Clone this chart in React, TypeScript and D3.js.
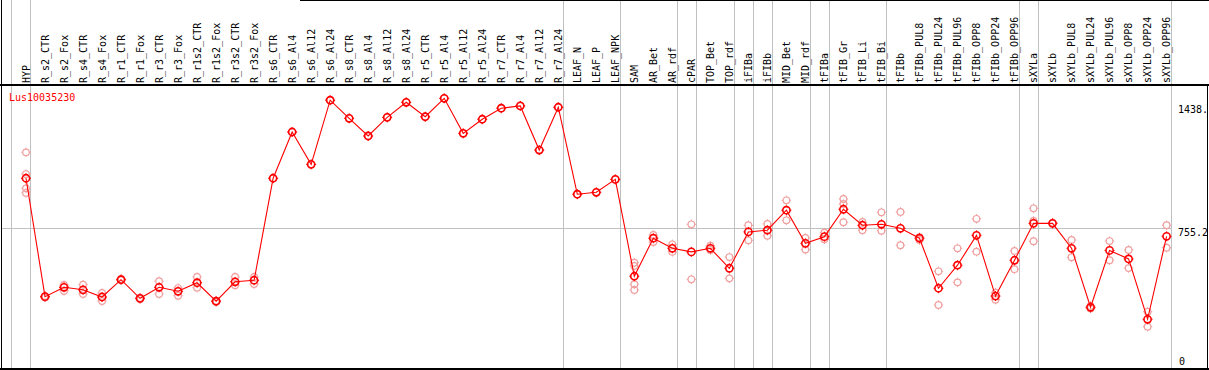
import React from "react";
import * as d3 from "d3";

const geneName = "Lus10035230";

const categories = [
  "HYP", "R_s2_CTR", "R_s2_Fox", "R_s4_CTR", "R_s4_Fox", "R_r1_CTR", "R_r1_Fox",
  "R_r3_CTR", "R_r3_Fox", "R_r1s2_CTR", "R_r1s2_Fox", "R_r3s2_CTR", "R_r3s2_Fox",
  "R_s6_CTR", "R_s6_Al4", "R_s6_Al12", "R_s6_Al24", "R_s8_CTR", "R_s8_Al4", "R_s8_Al12",
  "R_s8_Al24", "R_r5_CTR", "R_r5_Al4", "R_r5_Al12", "R_r5_Al24", "R_r7_CTR", "R_r7_Al4",
  "R_r7_Al12", "R_r7_Al24", "LEAF_N", "LEAF_P", "LEAF_NPK", "SAM", "AR_Bet", "AR_rdf",
  "cPAR", "TOP_Bet", "TOP_rdf", "iFIBa", "iFIBb", "MID_Bet", "MID_rdf", "tFIBa",
  "tFIB_Gr", "tFIB_Li", "tFIB_Bi", "tFIBb", "tFIBb_PUL8", "tFIBb_PUL24", "tFIBb_PUL96",
  "tFIBb_OPP8", "tFIBb_OPP24", "tFIBb_OPP96", "sXYLa", "sXYLb", "sXYLb_PUL8",
  "sXYLb_PUL24", "sXYLb_PUL96", "sXYLb_OPP8", "sXYLb_OPP24", "sXYLb_OPP96",
];

const meanValues = [
  1018, 396, 445, 432, 394, 485, 387, 445, 424, 469, 372, 474, 482,
  1018, 1261, 1091, 1428, 1333, 1240, 1338, 1417, 1341, 1438, 1254, 1328,
  1386, 1398, 1166, 1391, 934, 944, 1012, 503, 703, 650, 631, 650, 545,
  736, 745, 850, 676, 711, 855, 771, 776, 755, 703, 440, 561, 718, 399,
  587, 781, 781, 650, 340, 639, 594, 277, 713,
];

const replicateValues = [
  [1154, 1040, 965, 941],
  [399, 392],
  [457, 426],
  [459, 410],
  [415, 373],
  [489, 483],
  [389, 384],
  [477, 410],
  [441, 401],
  [499, 443],
  [373, 368],
  [499, 456],
  [499, 462],
  [1018],
  [1261],
  [1091],
  [1428],
  [1333],
  [1240],
  [1338],
  [1417],
  [1341],
  [1438],
  [1254],
  [1328],
  [1386],
  [1398],
  [1166],
  [1391],
  [934],
  [944],
  [1012],
  [574, 557, 461, 431],
  [720, 683],
  [671, 631],
  [776, 487],
  [664, 641],
  [604, 492],
  [771, 692],
  [778, 716],
  [902, 797],
  [704, 643],
  [732, 697],
  [909, 883, 787],
  [788, 745],
  [839, 742],
  [841, 666],
  [708, 694],
  [529, 352],
  [650, 471],
  [805, 632],
  [417, 380],
  [636, 540],
  [860, 794, 687],
  [781, 784],
  [694, 603],
  [347, 334],
  [688, 587],
  [641, 546],
  [317, 238],
  [771, 653],
];

// categories after which a vertical separator is drawn
const groupEnds = [
  "HYP", "R_r7_Al24", "LEAF_NPK", "AR_rdf", "cPAR", "TOP_rdf", "iFIBa", "iFIBb",
  "MID_rdf", "tFIBa", "tFIB_Bi", "tFIBb_OPP96", "sXYLa", "sXYLb_OPP96",
];

const yMaxLabel = "1438.";
const yMidValue = 755.2;
const yMidLabel = "755.2";
const yMinLabel = "0";

const W = 1209;
const H = 370;
const FONT = "'DejaVu Sans Mono', 'Liberation Mono', monospace";
const RED = "#ff0000";
const PINK = "#f0a0a0";
const GRID = "#c0c0c0";

function Marker({ cx, cy, r, color, sw }: { cx: number; cy: number; r: number; color: string; sw: number }) {
  const t = 1.4;
  return (
    <g stroke={color} strokeWidth={sw} fill="none">
      <circle cx={cx} cy={cy} r={r} />
      <line x1={cx} y1={cy - r} x2={cx} y2={cy - r - t} strokeWidth={1} />
      <line x1={cx} y1={cy + r} x2={cx} y2={cy + r + t} strokeWidth={1} />
      <line x1={cx - r} y1={cy} x2={cx - r - t} y2={cy} strokeWidth={1} />
      <line x1={cx + r} y1={cy} x2={cx + r + t} y2={cy} strokeWidth={1} />
    </g>
  );
}

export default function App() {
  const x = d3.scalePoint<string>().domain(categories).range([26, 1166.6]);
  const y = d3.scaleLinear().domain([0, 1438]).range([372, 98.3]);
  const crisp = (v: number) => Math.round(v) + 0.5;

  const sepXs = [
    crisp((x(categories[0]) as number) - 15.3),
    ...groupEnds.map((c) => crisp((x(c) as number) + 4.3)),
  ];

  const line = d3
    .line<number>()
    .x((_, i) => x(categories[i]) as number)
    .y((d) => y(d));

  const plotRight = crisp((x("sXYLb_OPP96") as number) + 4.3);

  return (
    <svg
      width={W}
      height={H}
      style={{ position: "absolute", left: 0, top: 0, background: "#fff" }}
      fontFamily={FONT}
    >
      <rect x={0} y={0} width={W} height={H} fill="#fff" />
      {/* vertical separators */}
      {sepXs.map((sx, i) => (
        <line key={i} x1={sx} x2={sx} y1={0} y2={369} stroke={GRID} strokeWidth={1} />
      ))}
      {/* horizontal mean line */}
      <line x1={1} x2={plotRight} y1={crisp(y(yMidValue))} y2={crisp(y(yMidValue))} stroke={GRID} strokeWidth={1} />

      {/* frame */}
      <line x1={300} x2={W} y1={0.5} y2={0.5} stroke="#000" strokeWidth={1} />
      <line x1={0} x2={W} y1={85} y2={85} stroke="#000" strokeWidth={2} />
      <line x1={1.5} x2={1.5} y1={0} y2={H} stroke="#000" strokeWidth={1} />
      <line x1={0} x2={W} y1={369} y2={369} stroke="#000" strokeWidth={2} />
      <line x1={1207.5} x2={1207.5} y1={85} y2={H} stroke="#000" strokeWidth={1} />

      {/* category labels */}
      {categories.map((c) => {
        const px = (x(c) as number) + 3.5;
        return (
          <text
            key={c}
            transform={`translate(${px},83) rotate(-90)`}
            fontSize={10}
            fill="#000"
          >
            {c}
          </text>
        );
      })}

      {/* gene name */}
      <text x={9} y={101} fontSize={10} fill={RED}>
        {geneName}
      </text>

      {/* right axis labels */}
      <text x={1178} y={y(1438) + 15} fontSize={10} fill="#000">{yMaxLabel}</text>
      <text x={1178} y={y(yMidValue) + 7.5} fontSize={10} fill="#000">{yMidLabel}</text>
      <text x={1179} y={y(0) - 7} fontSize={10} fill="#000">{yMinLabel}</text>

      {/* replicate markers */}
      {replicateValues.map((reps, i) =>
        reps.map((v, j) => (
          <Marker key={`${i}-${j}`} cx={x(categories[i]) as number} cy={y(v)} r={3.3} color={PINK} sw={1.2} />
        ))
      )}

      {/* mean line */}
      <path d={line(meanValues) || ""} fill="none" stroke={RED} strokeWidth={1.1} />

      {/* mean markers */}
      {meanValues.map((v, i) => (
        <Marker key={i} cx={x(categories[i]) as number} cy={y(v)} r={3.6} color={RED} sw={1.6} />
      ))}
    </svg>
  );
}
